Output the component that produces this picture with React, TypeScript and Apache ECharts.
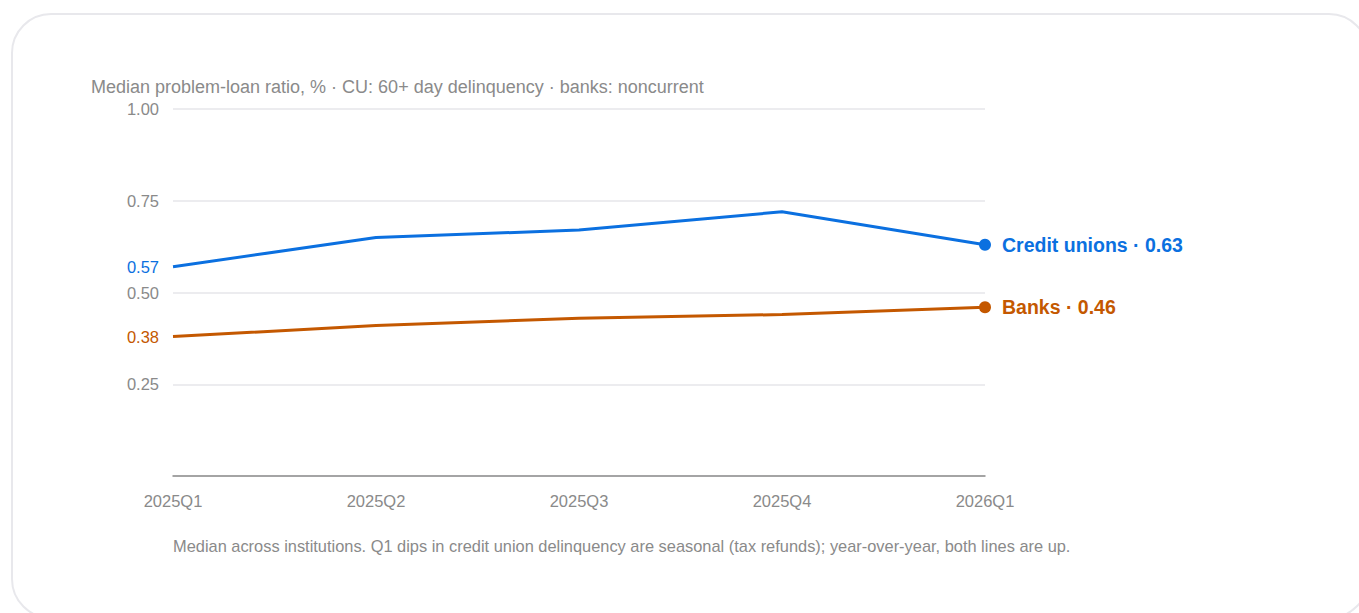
import React, { useEffect, useRef } from "react";
import * as echarts from "echarts";

const categories = ["2025Q1", "2025Q2", "2025Q3", "2025Q4", "2026Q1"];
const creditUnions = [0.57, 0.65, 0.67, 0.72, 0.63];
const banks = [0.38, 0.41, 0.43, 0.44, 0.46];
const yTicks = [0, 0.25, 0.5, 0.75, 1.0];

const BLUE = "#0b70e0";
const ORANGE = "#c45800";
const GRAY = "#8a8a8a";
const FONT = "'Liberation Sans', Arial, Helvetica, sans-serif";

const titleText = "Median problem-loan ratio, % · CU: 60+ day delinquency · banks: noncurrent";
const footText =
  "Median across institutions. Q1 dips in credit union delinquency are seasonal (tax refunds); year-over-year, both lines are up.";

export default function App() {
  const ref = useRef<HTMLDivElement>(null);
  useEffect(() => {
    if (!ref.current) return;
    const chart = echarts.init(ref.current, undefined, { renderer: "svg" });
    const last = categories.length - 1;
    const startMark = (v: number, color: string) => ({
      symbol: ["none", "none"],
      silent: true,
      lineStyle: { color: "rgba(0,0,0,0)", width: 0 },
      label: {
        show: true,
        position: "start",
        distance: 14,
        color,
        fontSize: 16.5,
        fontFamily: FONT,
        formatter: () => v.toFixed(2),
      },
      data: [{ yAxis: v }],
    });
    chart.setOption({
      animation: false,
      textStyle: { fontFamily: FONT },
      title: {
        text: titleText,
        left: 86,
        top: 73,
        textStyle: { color: GRAY, fontSize: 18, fontWeight: "normal", fontFamily: FONT },
      },
      grid: { left: 173, right: 374, top: 109, bottom: 137 },
      xAxis: {
        type: "category",
        data: categories,
        boundaryGap: false,
        axisLine: { lineStyle: { color: "#8c8c8c", width: 1.5 } },
        axisTick: { show: false },
        axisLabel: { color: GRAY, fontSize: 16.5, margin: 16, fontFamily: FONT },
      },
      yAxis: {
        type: "value",
        min: yTicks[0],
        max: yTicks[yTicks.length - 1],
        interval: 0.25,
        axisLine: { show: false },
        axisTick: { show: false },
        splitLine: { lineStyle: { color: "#e6e6ea", width: 1.5 } },
        axisLabel: {
          color: GRAY,
          fontSize: 16.5,
          margin: 14,
          fontFamily: FONT,
          formatter: (v: number) => (v === 0 ? "" : v.toFixed(2)),
        },
      },
      series: [
        {
          name: "Credit unions",
          type: "line",
          data: creditUnions,
          lineStyle: { color: BLUE, width: 3 },
          itemStyle: { color: BLUE },
          symbol: "circle",
          symbolSize: (_v: any, p: any) => (p.dataIndex === last ? 12 : 0),
          showAllSymbol: true,
          endLabel: {
            show: true,
            distance: 17,
            color: BLUE,
            fontSize: 19.5,
            fontWeight: "bold",
            fontFamily: FONT,
            formatter: (p: any) => `Credit unions · ${Number(p.value).toFixed(2)}`,
          },
          markLine: startMark(creditUnions[0], BLUE),
        },
        {
          name: "Banks",
          type: "line",
          data: banks,
          lineStyle: { color: ORANGE, width: 3 },
          itemStyle: { color: ORANGE },
          symbol: "circle",
          symbolSize: (_v: any, p: any) => (p.dataIndex === last ? 12 : 0),
          showAllSymbol: true,
          endLabel: {
            show: true,
            distance: 17,
            color: ORANGE,
            fontSize: 19.5,
            fontWeight: "bold",
            fontFamily: FONT,
            formatter: (p: any) => `Banks · ${Number(p.value).toFixed(2)}`,
          },
          markLine: startMark(banks[0], ORANGE),
        },
      ],
      graphic: [
        {
          type: "text",
          left: 173,
          top: 538,
          style: { text: footText, fill: GRAY, fontSize: 16.4, fontFamily: FONT },
        },
      ],
    });
    return () => chart.dispose();
  }, []);

  return (
    <div style={{ position: "fixed", left: 0, top: 0, width: 1359, height: 613, overflow: "hidden", background: "#fff" }}>
      <div
        style={{
          position: "absolute",
          left: 11,
          top: 13,
          width: 1358,
          height: 606,
          border: "2px solid #e8e8ec",
          borderRadius: 40,
          boxSizing: "border-box",
        }}
      />
      <div ref={ref} style={{ position: "absolute", left: 0, top: 0, width: 1359, height: 613 }} />
    </div>
  );
}
